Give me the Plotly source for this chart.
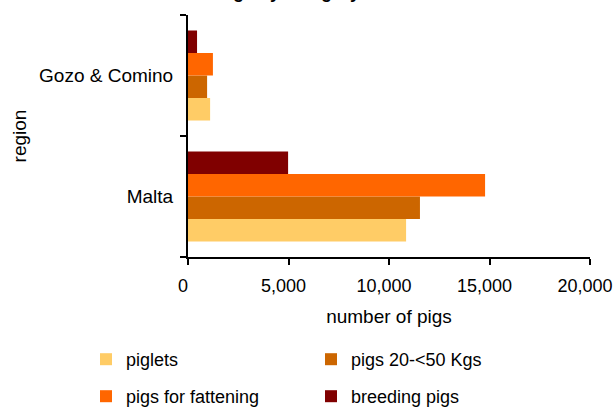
import plotly.graph_objects as go

regions = ["Malta", "Gozo & Comino"]
series_names = ["piglets", "pigs 20-<50 Kgs", "pigs for fattening", "breeding pigs"]
piglets = [10850, 1100]
pigs_20_50 = [11540, 950]
pigs_fattening = [14780, 1240]
breeding_pigs = [4980, 450]
colors = ["#FFCC66", "#CC6600", "#FF6600", "#800000"]
x_ticks = [0, 5000, 10000, 15000, 20000]

values = [piglets, pigs_20_50, pigs_fattening, breeding_pigs]
legends = ["legend", "legend", "legend2", "legend2"]

FONT = "Liberation Sans, Arial, sans-serif"
W, H = 615, 408
L, R, T, B = 188, 25, 15, 151
PW, PH = W - L - R, H - T - B


def px_x(p):
    return (p - L) / PW


def px_y(p):
    return (H - B - p) / PH


fig = go.Figure()
for name, vals, col, lg in zip(series_names, values, colors, legends):
    fig.add_trace(go.Bar(
        y=regions, x=vals, name=name, orientation="h",
        marker=dict(color=col, line=dict(width=0)),
        legend=lg,
    ))

leg_common = dict(orientation="h", x=px_x(86), xanchor="left", yanchor="middle",
                  entrywidth=180, entrywidthmode="pixels", font=dict(size=18),
                  bgcolor="rgba(0,0,0,0)")

fig.update_layout(
    width=W, height=H,
    margin=dict(l=L, r=R, t=T, b=B, autoexpand=False),
    paper_bgcolor="white", plot_bgcolor="white",
    font=dict(family=FONT, size=18, color="black"),
    barmode="group", bargap=0.256, bargroupgap=0,
    showlegend=True,
    legend=dict(leg_common, y=px_y(359.5)),
    legend2=dict(leg_common, y=px_y(396.5)),
    xaxis=dict(range=[0, 20000], tickvals=x_ticks, tickformat=",",
               ticks="outside", ticklen=6, tickwidth=2, tickcolor="black",
               showline=True, linecolor="black", linewidth=2,
               showgrid=False, zeroline=False, automargin=False,
               ticklabeloverflow="allow", ticklabelshift=-5, ticklabelstandoff=5,
               tickfont=dict(size=18),
               title=dict(text="number of pigs", font=dict(size=19), standoff=15)),
    yaxis=dict(categoryorder="array", categoryarray=regions,
               tickson="boundaries", ticks="outside", ticklen=6, tickwidth=2,
               tickcolor="black", showline=True, linecolor="black", linewidth=2,
               showgrid=False, zeroline=False, automargin=False,
               ticklabelstandoff=9, tickfont=dict(size=19),
               title=dict(text="region", font=dict(size=19), standoff=7)),
    annotations=[dict(text="<b>Pigs by category</b>", xref="paper", yref="paper",
                      x=px_x(362), y=px_y(3.5),
                      xanchor="right", yanchor="bottom", showarrow=False,
                      font=dict(size=18, color="black"))],
)

fig.write_html("out.html", config={"displayModeBar": False},
               post_script="document.body.style.margin='0';document.body.style.padding='0';")
